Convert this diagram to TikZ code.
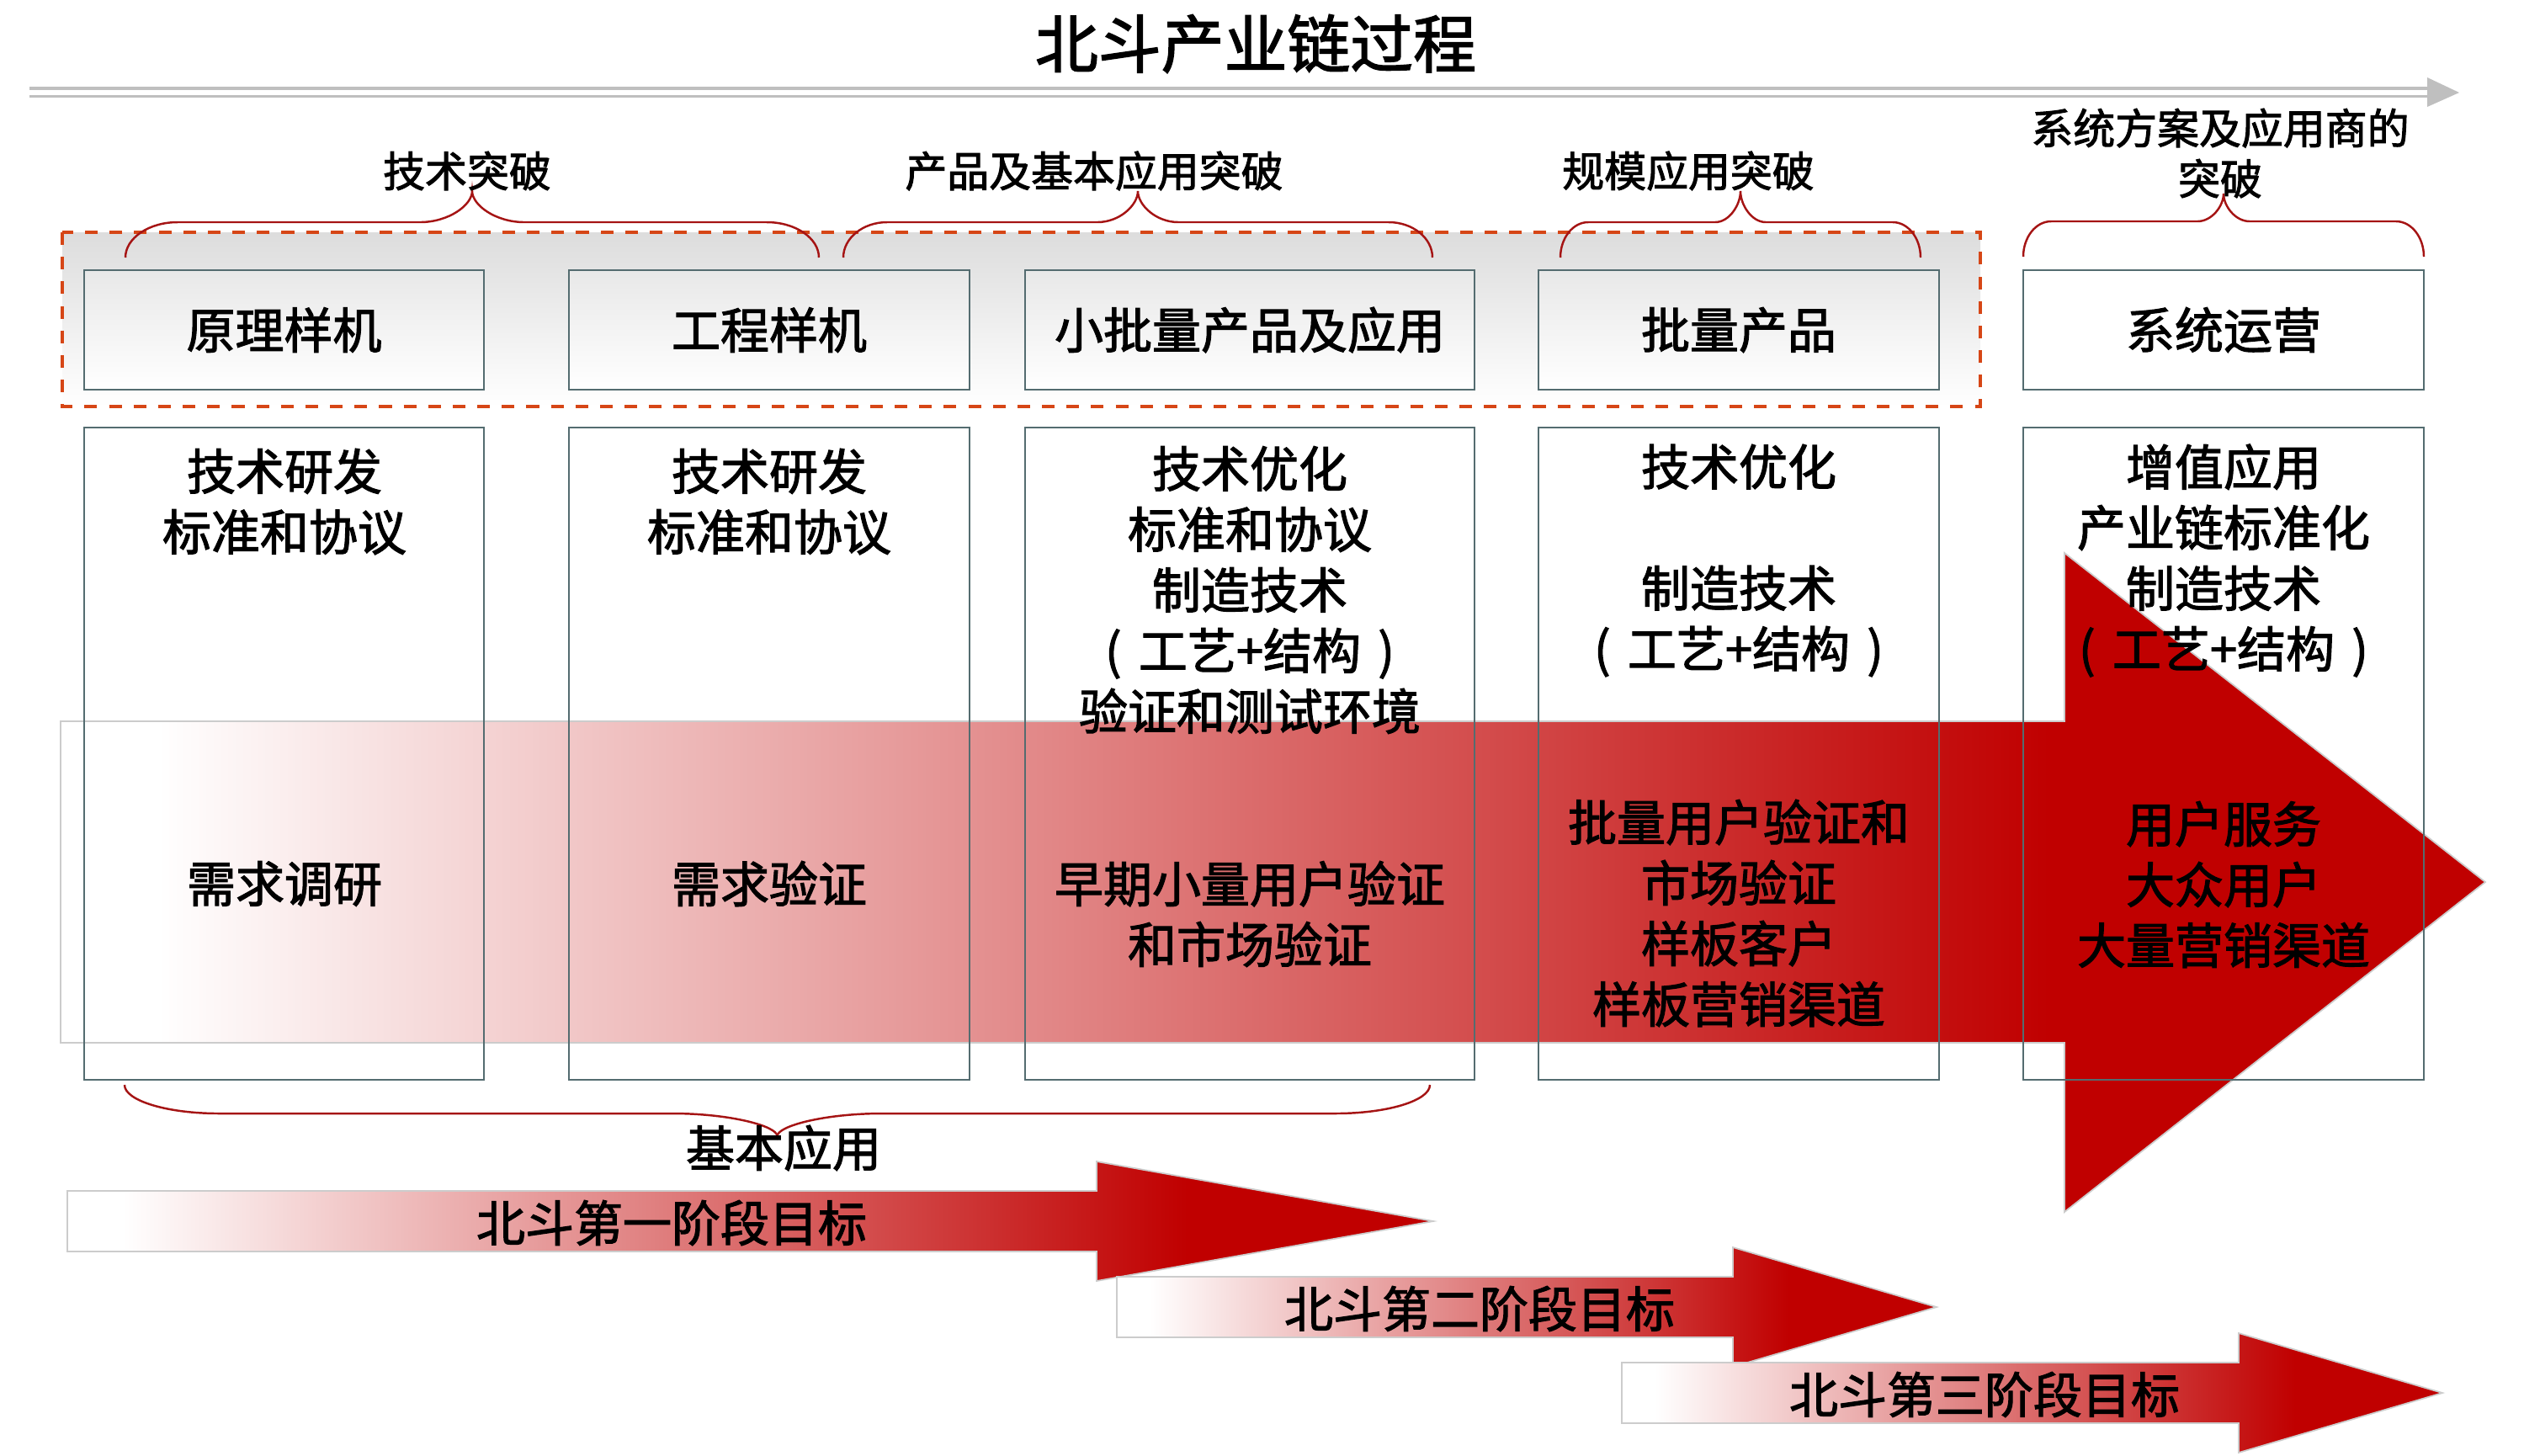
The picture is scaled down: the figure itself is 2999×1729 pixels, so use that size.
\documentclass[tikz,border=0pt]{standalone}
\usepackage{fontspec}
\setmainfont{Noto Sans CJK SC}[FakeBold=2]

\definecolor{bdred}{RGB}{192,0,0}
\definecolor{bracered}{RGB}{165,20,20}
\definecolor{dashred}{RGB}{214,70,22}
\definecolor{boxedge}{RGB}{84,108,112}
\definecolor{axisgray}{RGB}{191,191,191}
\pgfdeclarehorizontalshading{redfade}{100bp}{color(0bp)=(white); color(27bp)=(white); color(66bp)=(bdred); color(100bp)=(bdred)}

% curly brace: left x, right x, end y, bar y, tip y, corner width, tip width
\newcommand{\bdbrace}[7]{%
  \draw[bracered, line width=0.7pt] (#1,#3)
    .. controls (#1,{#4+0.45*(#3-#4)}) and ({#1+0.45*#6},#4) .. ({#1+#6},#4)
    -- ({(#1+#2)/2-#7},#4)
    .. controls ({(#1+#2)/2-0.45*#7},#4) and ({(#1+#2)/2},{#5+0.45*(#4-#5)}) .. ({(#1+#2)/2},#5)
    .. controls ({(#1+#2)/2},{#5+0.45*(#4-#5)}) and ({(#1+#2)/2+0.45*#7},#4) .. ({(#1+#2)/2+#7},#4)
    -- ({#2-#6},#4)
    .. controls ({#2-0.45*#6},#4) and (#2,{#4+0.45*(#3-#4)}) .. (#2,#3);}
% bracketed line (工艺+结构)
\newcommand{\bdparen}[1]{(\hspace{0.35em}#1\hspace{0.35em})}

\begin{document}
\begin{tikzpicture}[x=0.1mm, y=-0.1mm,
    bdtext/.style={font=\fontsize{16.5pt}{20.5pt}\selectfont, align=center, inner sep=0pt},
    bracetext/.style={font=\fontsize{14.2pt}{17.1pt}\selectfont, align=center, inner sep=0pt},
    stagebox/.style={draw=boxedge, line width=0.5pt},
    fadearrow/.style={shade, shading=redfade, draw=gray!40, line width=0.5pt}]
\useasboundingbox (0,0) rectangle (2999,1729);

% title and axis
\node[font=\fontsize{21.3pt}{26pt}\selectfont, inner sep=0pt] (title) at (1492,52) {北斗产业链过程};
\draw[axisgray, line width=1pt, double=white, double distance=1.7pt] (35,109.5) -- (2886,109.5);
\fill[axisgray] (2884,92) -- (2922,110) -- (2884,127) -- cycle;

% dashed frame and phase boxes
\draw[dashred, line width=1.1pt, dash pattern=on 4.3pt off 4pt, top color=gray!27, bottom color=white] (74,276) rectangle (2353,483);
\foreach \nm/\xa/\xb/\txt in {proto/100/575/原理样机, eng/676/1152/工程样机, small/1218/1752/小批量产品及应用, batch/1828/2304/批量产品}
{
  \draw[stagebox, top color=gray!18, bottom color=white] (\xa,321) rectangle (\xb,463);
  \node[bdtext] (\nm) at ({(\xa+\xb)/2},392) {\txt};
}
\draw[stagebox] (2404,321) rectangle (2880,463);
\node[bdtext] (ops) at (2642,392) {系统运营};

% braces on top
\bdbrace{149}{973}{306}{264}{227}{62}{62}
\node[bracetext] (tech) at (555,203) {技术突破};
\bdbrace{1002}{1702}{306}{264}{227}{52}{48}
\node[bracetext] (prodapp) at (1300,203) {产品及基本应用突破};
\bdbrace{1854}{2282}{306}{264}{227}{33}{30}
\node[bracetext] (scale) at (2006,203) {规模应用突破};
\bdbrace{2404}{2880}{305}{263}{230}{33}{31}
\node[bracetext] (sysop) at (2638,182) {系统方案及应用商的\\突破};

% big arrow behind the columns
\path[fadearrow] (72,857) -- (2453,857) -- (2453,657) -- (2953,1048) -- (2453,1440) -- (2453,1239) -- (72,1239) -- cycle;
\foreach \xa/\xb in {100/575, 676/1152, 1218/1752, 1828/2304, 2404/2880}
  \draw[stagebox] (\xa,508) rectangle (\xb,1283);

\node[bdtext] (rd1) at (338,596) {技术研发\\标准和协议};
\node[bdtext] (need1) at (338,1050) {需求调研};
\node[bdtext] (rd2) at (914,596) {技术研发\\标准和协议};
\node[bdtext] (need2) at (914,1050) {需求验证};
\node[bdtext] (opt3) at (1485,701) {技术优化\\标准和协议\\制造技术\\\bdparen{工艺+结构}\\验证和测试环境};
\node[bdtext] (user3) at (1485,1086) {早期小量用户验证\\和市场验证};
\node[bdtext] (opt4) at (2066,666) {技术优化\\[20.5pt]制造技术\\\bdparen{工艺+结构}};
\node[bdtext] (user4) at (2066,1085) {批量用户验证和\\市场验证\\样板客户\\样板营销渠道};
\node[bdtext] (opt5) at (2642,666) {增值应用\\产业链标准化\\制造技术\\\bdparen{工艺+结构}};
\node[bdtext] (user5) at (2642,1051) {用户服务\\大众用户\\大量营销渠道};

% bottom brace
\bdbrace{148}{1699}{1289}{1323}{1350}{112}{125}
\node[bdtext] (basic) at (931,1364) {基本应用};

% stage goals
\foreach \nm/\xa/\xb/\xc/\yc/\xlab/\txt in {first/80/1303/1703/1451/798/北斗第一阶段目标, second/1327/2059/2301/1553/1758/北斗第二阶段目标, third/1927/2660/2902/1655/2358/北斗第三阶段目标}
{
  \path[fadearrow] (\xa,{\yc-36}) -- (\xb,{\yc-36}) -- (\xb,{\yc-71}) -- (\xc,\yc) -- (\xb,{\yc+71}) -- (\xb,{\yc+36}) -- (\xa,{\yc+36}) -- cycle;
  \node[bdtext] (\nm) at (\xlab,{\yc+2}) {\txt};
}
\end{tikzpicture}
\end{document}
